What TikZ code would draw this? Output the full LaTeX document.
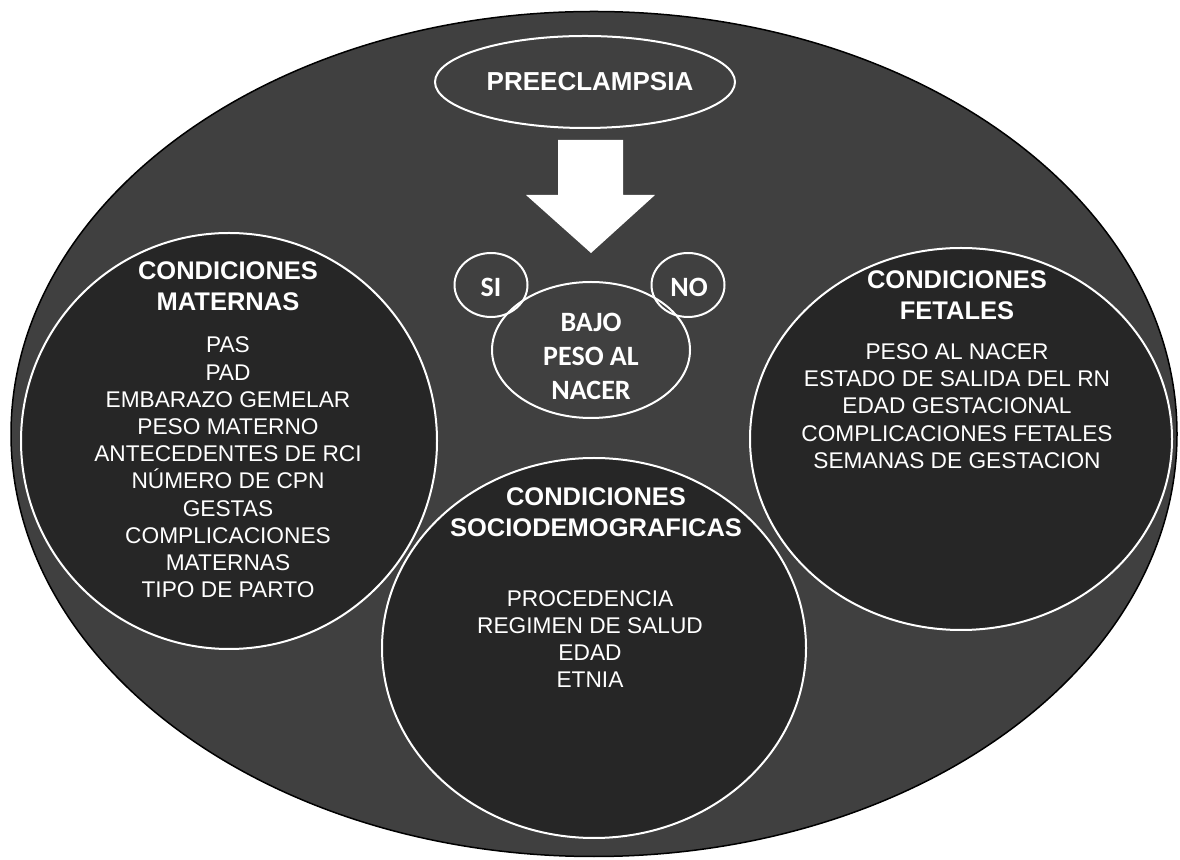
\documentclass[tikz,border=0pt]{standalone}
\usepackage{fontspec}
\setmainfont{Liberation Sans}
\newfontfamily\calib{Carlito}
\usetikzlibrary{shapes.geometric}
\definecolor{outerfill}{HTML}{404040}
\definecolor{innerfill}{HTML}{262626}
\begin{document}
\begin{tikzpicture}[x=1pt,y=1pt,
  blob/.style={ellipse,inner sep=0pt,outer sep=0pt},
  darkcircle/.style={blob,fill=innerfill},
  ring/.style={blob,draw=white,line width=2pt},
  matsize/.style={minimum width=416pt,minimum height=416pt},
  fetsize/.style={minimum width=422pt,minimum height=382pt},
  socsize/.style={minimum width=424pt,minimum height=380pt},
  titletext/.style={text=white,align=center,font=\fontsize{25.5}{31}\selectfont\bfseries},
  bodytext/.style={text=white,align=center,font=\fontsize{22.7}{27.2}\selectfont},
  calibtext/.style={text=white,align=center,font=\calib\fontsize{28}{34}\selectfont\bfseries}]
\useasboundingbox (0,0) rectangle (1180,859);
% outer ellipse
\node[blob,draw=black,line width=1.5pt,fill=outerfill,minimum width=1166pt,minimum height=845pt] (outer) at (594,425) {};
% preeclampsia
\node[ring,minimum width=300pt,minimum height=92pt] (pre) at (585,777) {};
\node[text=white,font=\fontsize{26}{30}\selectfont\bfseries] (pretext) at (590,777) {PREECLAMPSIA};
% arrow
\fill[white] (558,719) -- (623,719) -- (623,664) -- (655,664) -- (591,606) -- (526,664) -- (558,664) -- cycle;
% big circles: fills, then outlines
\node[darkcircle,matsize] (mat) at (229,418) {};
\node[darkcircle,fetsize] (fet) at (961,420) {};
\node[darkcircle,socsize] (soc) at (594,211) {};
\node[ring,matsize] (matring) at (mat.center) {};
\node[ring,fetsize] (fetring) at (fet.center) {};
\node[ring,socsize] (socring) at (soc.center) {};
% bajo peso, si, no
\node[ring,minimum width=198pt,minimum height=136pt] (bajo) at (591,509) {};
\node[ring,minimum width=73pt,minimum height=64pt] (si) at (491,574) {};
\node[ring,minimum width=73pt,minimum height=64pt] (no) at (688,574) {};
\node[calibtext] (bajotext) at (591,503) {BAJO\\PESO AL\\NACER};
\node[calibtext] (sitext) at (491,572) {SI};
\node[calibtext] (notext) at (689,572) {NO};
% texts maternas
\node[titletext] (mattitle) at (228,573) {CONDICIONES\\MATERNAS};
\node[bodytext] (matbody) at (228,391.5) {PAS\\PAD\\EMBARAZO GEMELAR\\PESO MATERNO\\ANTECEDENTES DE RCI\\NÚMERO DE CPN\\GESTAS\\COMPLICACIONES\\MATERNAS\\TIPO DE PARTO};
% texts fetales
\node[titletext] (fettitle) at (957,564) {CONDICIONES\\FETALES};
\node[bodytext] (fetbody) at (957,453) {PESO AL NACER\\ESTADO DE SALIDA DEL RN\\EDAD GESTACIONAL\\COMPLICACIONES FETALES\\SEMANAS DE GESTACION};
% texts socio
\node[titletext] (soctitle) at (596,346.5) {CONDICIONES\\SOCIODEMOGRAFICAS};
\node[bodytext] (socbody) at (590,220) {PROCEDENCIA\\REGIMEN DE SALUD\\EDAD\\ETNIA};
\end{tikzpicture}
\end{document}
